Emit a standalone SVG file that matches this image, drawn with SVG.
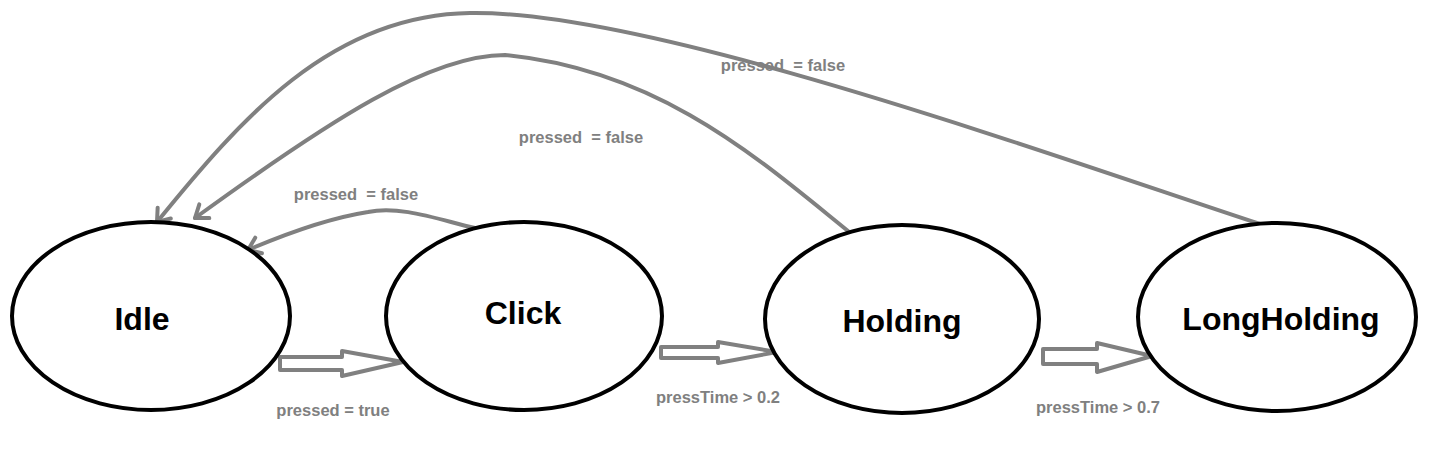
<svg xmlns="http://www.w3.org/2000/svg" width="1444" height="454" viewBox="0 0 1444 454">
<style>
.node{fill:#fff;stroke:#000;stroke-width:4}
.ntext{font-family:"Liberation Sans",Arial,sans-serif;font-weight:bold;font-size:32px;fill:#000;text-anchor:middle}
.lbl{font-family:"Liberation Sans",Arial,sans-serif;font-weight:bold;font-size:16.5px;fill:#808080;text-anchor:middle;white-space:pre}
.edge{fill:none;stroke:#808080;stroke-width:4;stroke-linecap:round}
.block{fill:#fff;stroke:#808080;stroke-width:4;stroke-linejoin:round}
</style>
<defs>
<marker id="open" markerUnits="userSpaceOnUse" viewBox="-16 -11 18 22" markerWidth="18" markerHeight="22" refX="0" refY="0" orient="auto" overflow="visible">
<path d="M-11.5,-8.5 L0,0 L-11.5,8.5" fill="none" stroke="#808080" stroke-width="4" stroke-linecap="round" stroke-linejoin="round"/>
</marker>
</defs>
<rect width="1444" height="454" fill="#fff"/>
<g id="connectors">
<path class="edge" d="M1260,224 C1050,155 650,10 470,13 C330,15 240,120 157,222" marker-end="url(#open)"/>
<path class="edge" d="M848,231 C760,160 660,70 505,55 C430,55 330,120 195,218" marker-end="url(#open)"/>
<path class="edge" d="M475,228 C440,220 400,205 368,212 C330,218 290,232 248,250" marker-end="url(#open)"/>
<polygon class="block" points="280,357 342,357 342,351 403,362 342,376 342,370 280,370"/>
<polygon class="block" points="661,347 718,347 718,342 777,352 718,363 718,358 661,358"/>
<polygon class="block" points="1043,349 1097,349 1097,343 1152,356 1097,372 1097,364 1043,364"/>
<text class="lbl" x="333" y="416">pressed = true</text>
<text class="lbl" x="356" y="200">pressed  = false</text>
<text class="lbl" x="581" y="143">pressed  = false</text>
<text class="lbl" x="783" y="71">pressed  = false</text>
<text class="lbl" x="718" y="403">pressTime &gt; 0.2</text>
<text class="lbl" x="1098" y="413">pressTime &gt; 0.7</text>
</g>
<g id="idle">
<ellipse class="node" cx="151" cy="316" rx="139" ry="94"/>
<text class="ntext" x="142" y="330">Idle</text>
</g>
<g id="click">
<ellipse class="node" cx="524" cy="316" rx="138" ry="94"/>
<text class="ntext" x="523" y="324">Click</text>
</g>
<g id="holding">
<ellipse class="node" cx="902" cy="319" rx="137" ry="94"/>
<text class="ntext" x="902" y="332">Holding</text>
</g>
<g id="longholding">
<ellipse class="node" cx="1277" cy="317" rx="139" ry="94"/>
<text class="ntext" x="1281" y="330">LongHolding</text>
</g>
</svg>
